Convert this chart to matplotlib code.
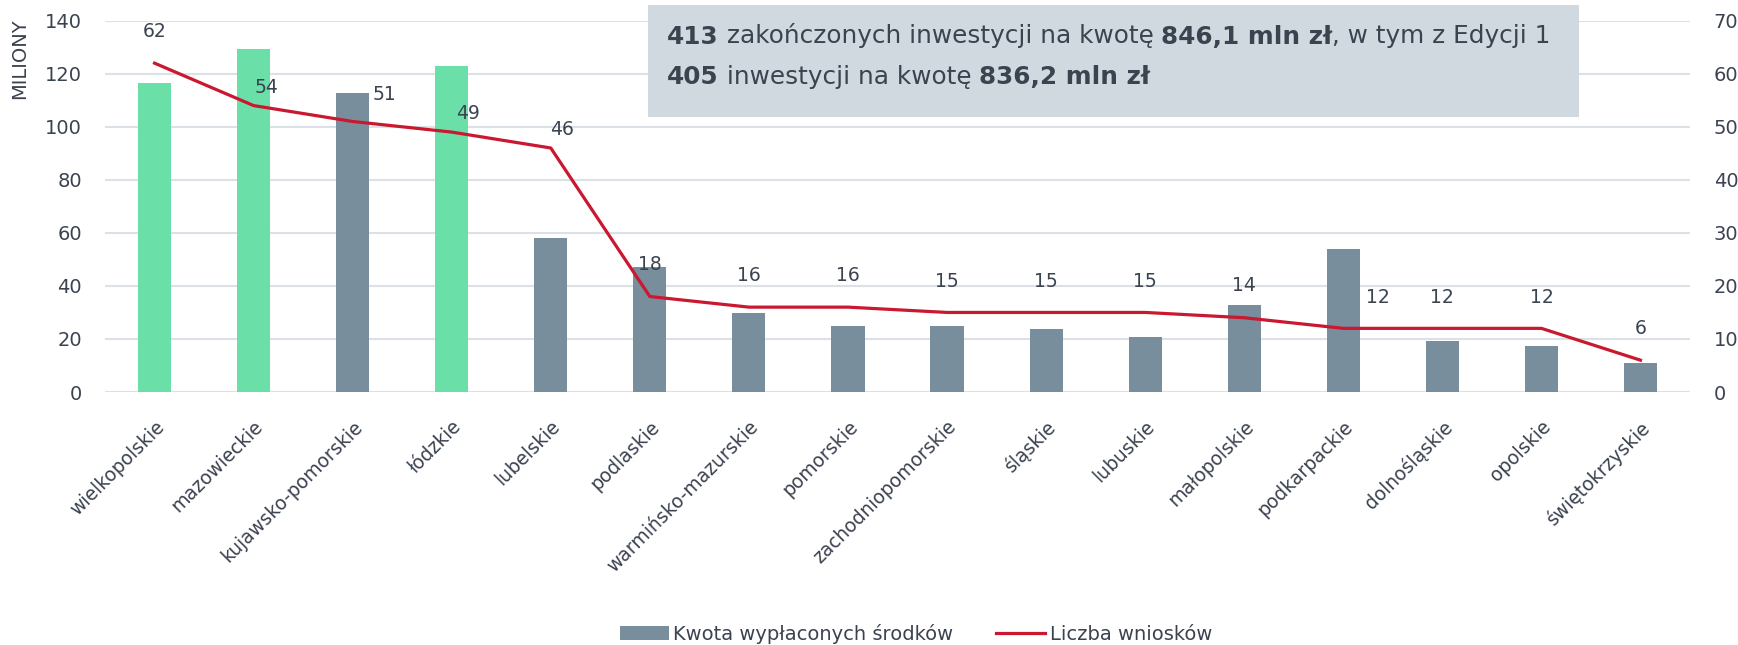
import matplotlib
matplotlib.use("Agg")
import matplotlib.pyplot as plt
from matplotlib.patches import Patch, Rectangle
from matplotlib.lines import Line2D
from matplotlib.offsetbox import TextArea, HPacker, AnnotationBbox

# ---------------- data ----------------
categories = ["wielkopolskie", "mazowieckie", "kujawsko-pomorskie", "łódzkie",
              "lubelskie", "podlaskie", "warmińsko-mazurskie", "pomorskie",
              "zachodniopomorskie", "śląskie", "lubuskie", "małopolskie",
              "podkarpackie", "dolnośląskie", "opolskie", "świętokrzyskie"]
amounts_mln = [116.5, 129.3, 112.8, 123.1, 57.9, 47.2, 29.6, 24.8,
               24.8, 23.8, 20.8, 32.7, 53.8, 19.1, 17.2, 10.9]
applications = [62, 54, 51, 49, 46, 18, 16, 16, 15, 15, 15, 14, 12, 12, 12, 6]
highlighted = ["wielkopolskie", "mazowieckie", "łódzkie"]
left_ticks = [0, 20, 40, 60, 80, 100, 120, 140]
right_ticks = [0, 10, 20, 30, 40, 50, 60, 70]

bar_label = "Kwota wypłaconych środków"
line_label = "Liczba wniosków"
y_label = "MILIONY"
box_line1 = [("413", True), (" zakończonych inwestycji na kwotę ", False),
             ("846,1 mln zł", True), (", w tym z Edycji 1", False)]
box_line2 = [("405", True), (" inwestycji na kwotę ", False),
             ("836,2 mln zł", True)]

# label offsets (category units, right-axis units)
label_dx = [0, 0.13, 0.32, 0.16, 0.11, 0, 0, 0, 0, 0, 0, 0, 0.35, 0, 0, 0]
label_dy = [6.0, 3.4, 5.0, 3.5, 3.4, 6.0, 6.0, 6.0, 5.9, 5.9, 5.9, 6.0, 5.8, 5.8, 5.8, 5.9]

# ---------------- style ----------------
GREEN = "#6ADFA7"
GRAY = "#788E9D"
RED = "#C9182F"
TXT = "#3B4350"
GRID = "#DCE1E7"
BOX = "#D1D9E0"
FS = 14

plt.rcParams["font.family"] = ["DejaVu Sans"]

W, H = 1738, 645
fig = plt.figure(figsize=(W / 100, H / 100), dpi=100)
ax = fig.add_axes([105 / W, 1 - 392 / H, (1690 - 105) / W, (392 - 20.7) / H])
ax2 = ax.twinx()

x = list(range(len(categories)))
colors = [GREEN if c in highlighted else GRAY for c in categories]
ax.bar(x, amounts_mln, width=0.335, color=colors, zorder=2)
ax.set_ylim(0, 140)
ax.set_xlim(-0.5, len(categories) - 0.5)
ax.set_yticks(left_ticks)
ax.set_axisbelow(True)
ax.grid(axis="y", color=GRID, linewidth=1.5)
ax.grid(axis="x", visible=False)
for s in ax.spines.values():
    s.set_visible(False)
for s in ax2.spines.values():
    s.set_visible(False)

ax.set_xticks(x)
ax.set_xticklabels(categories, rotation=45, ha="right", va="top",
                   rotation_mode="anchor", fontsize=13.5, color=TXT)
ax.tick_params(axis="x", length=0, pad=18)
ax.tick_params(axis="y", length=0, pad=16.5, labelsize=FS, labelcolor=TXT)

ax2.plot(x, applications, color=RED, linewidth=2.3, zorder=3,
         solid_joinstyle="round")
ax2.set_ylim(0, 70)
ax2.set_yticks(right_ticks)
ax2.tick_params(axis="y", length=0, pad=17, labelsize=FS, labelcolor=TXT)
for i, v in enumerate(applications):
    ax2.text(i + label_dx[i], v + label_dy[i], str(v), ha="center", va="center",
             fontsize=13.5, color=TXT, zorder=5)

fig.text(20 / W, 1 - 59 / H, y_label, rotation=90, ha="center", va="center",
         fontsize=FS, color=TXT)

# info box
fig.add_artist(Rectangle((648 / W, 1 - 117 / H), (1579 - 648) / W, (117 - 5) / H,
                         transform=fig.transFigure, facecolor=BOX,
                         edgecolor="none", zorder=10))


def text_line(parts, ypix):
    areas = [TextArea(t, textprops=dict(fontsize=17.8, color=TXT,
                                        fontweight="bold" if b else "normal"))
             for t, b in parts]
    pack = HPacker(children=areas, align="baseline", pad=0, sep=0)
    ab = AnnotationBbox(pack, (667 / W, 1 - ypix / H), xycoords="figure fraction",
                        box_alignment=(0, 0.5), frameon=False, pad=0)
    ab.set_zorder(11)
    fig.add_artist(ab)


text_line(box_line1, 36)
text_line(box_line2, 77)

handles = [Patch(facecolor=GRAY, edgecolor="none"),
           Line2D([0], [0], color=RED, linewidth=2.3)]
fig.legend(handles, [bar_label, line_label], loc="center",
           bbox_to_anchor=(916 / W, 1 - 634 / H), ncol=2, frameon=False,
           fontsize=FS, labelcolor=TXT, handlelength=2.5, handletextpad=0.25,
           columnspacing=2.2, handleheight=0.75)

fig.savefig("out.png", dpi=100)
